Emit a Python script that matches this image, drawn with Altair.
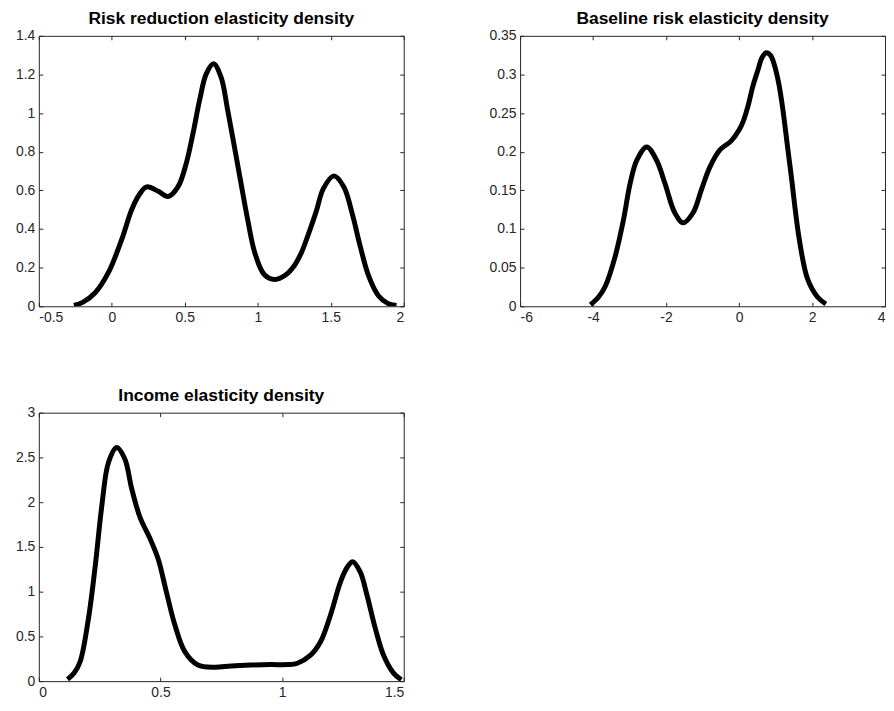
import altair as alt
import pandas as pd

# Panel 1: Risk reduction elasticity density
rr_x = [-0.26, -0.20, -0.114, -0.023, 0.068, 0.136, 0.19, 0.239, 0.318, 0.386, 0.454, 0.51,
        0.556, 0.601, 0.647, 0.697, 0.749, 0.794, 0.84, 0.885, 0.931, 0.98, 1.044, 1.117,
        1.19, 1.25, 1.30, 1.35, 1.40, 1.45, 1.521, 1.589, 1.646, 1.702, 1.76, 1.828, 1.89, 1.95]
rr_y = [0.005, 0.02, 0.07, 0.175, 0.346, 0.50, 0.58, 0.618, 0.595, 0.568, 0.619, 0.74,
        0.894, 1.065, 1.203, 1.255, 1.185, 1.014, 0.825, 0.637, 0.448, 0.276, 0.165, 0.139,
        0.162, 0.21, 0.28, 0.38, 0.49, 0.61, 0.675, 0.619, 0.482, 0.31, 0.156, 0.053, 0.015, 0.004]

# Panel 2: Baseline risk elasticity density
br_x = [-4.07, -3.85, -3.665, -3.392, -3.166, -2.984, -2.80, -2.53, -2.26, -2.03, -1.76, -1.53,
        -1.26, -1.03, -0.80, -0.53, -0.215, 0.0, 0.12, 0.245, 0.38, 0.52, 0.63, 0.745, 0.86,
        0.97, 1.09, 1.2, 1.32, 1.43, 1.65, 1.88, 2.15, 2.38]
br_y = [0.002, 0.012, 0.026, 0.065, 0.112, 0.159, 0.189, 0.206, 0.189, 0.159, 0.121, 0.108,
        0.121, 0.151, 0.18, 0.202, 0.214, 0.228, 0.24, 0.259, 0.285, 0.306, 0.322, 0.328, 0.325,
        0.312, 0.288, 0.255, 0.21, 0.169, 0.087, 0.035, 0.012, 0.003]

# Panel 3: Income elasticity density
ie_x = [0.118, 0.145, 0.170, 0.204, 0.232, 0.259, 0.286, 0.320, 0.354, 0.381, 0.416, 0.456,
        0.49, 0.524, 0.559, 0.60, 0.654, 0.722, 0.791, 0.873, 0.955, 1.023, 1.063, 1.117,
        1.158, 1.199, 1.24, 1.267, 1.29, 1.321, 1.349, 1.383, 1.417, 1.458, 1.49]
ie_y = [0.02, 0.09, 0.22, 0.70, 1.29, 1.96, 2.44, 2.61, 2.48, 2.16, 1.83, 1.60,
        1.37, 1.0, 0.63, 0.33, 0.18, 0.155, 0.17, 0.18, 0.185, 0.185, 0.20, 0.29,
        0.44, 0.74, 1.11, 1.27, 1.335, 1.22, 0.96, 0.59, 0.29, 0.09, 0.015]

titles = ["Risk reduction elasticity density", "Baseline risk elasticity density",
          "Income elasticity density"]
x_ticks = [[-0.5, 0, 0.5, 1, 1.5, 2], [-6, -4, -2, 0, 2, 4], [0, 0.5, 1, 1.5]]
y_ticks = [[0, 0.2, 0.4, 0.6, 0.8, 1, 1.2, 1.4],
           [0, 0.05, 0.1, 0.15, 0.2, 0.25, 0.3, 0.35],
           [0, 0.5, 1, 1.5, 2, 2.5, 3]]

FONT = "Liberation Sans"
W = 367
HS = [272, 272, 270]
TICK = 4


def panel(xs, ys, title, xt, yt, h):
    df = pd.DataFrame({"x": xs, "y": ys})
    xdom = [xt[0], xt[-1]]
    ydom = [yt[0], yt[-1]]
    common = dict(domain=False, grid=False, tickSize=TICK, offset=-TICK,
                  tickColor="#262626", labelColor="#262626", labelFont=FONT,
                  labelFontSize=14, title=None, labelExpr="'' + datum.value",
                  labelPadding=4)
    xs_ = alt.Scale(domain=xdom, nice=False, zero=False)
    ys_ = alt.Scale(domain=ydom, nice=False, zero=False)
    main = alt.Chart(df).mark_line(color="black", strokeWidth=5, interpolate="catmull-rom",
                                   strokeCap="butt", clip=True).encode(
        x=alt.X("x:Q", scale=xs_, axis=alt.Axis(values=xt, orient="bottom", **common)),
        y=alt.Y("y:Q", scale=ys_, axis=alt.Axis(values=yt, orient="left", **common)),
        order="x:Q",
    )
    common2 = dict(common)
    common2["labels"] = False
    ghost = alt.Chart(df).mark_line(opacity=0).encode(
        x=alt.X("x:Q", scale=xs_, axis=alt.Axis(values=xt, orient="top", **common2)),
        y=alt.Y("y:Q", scale=ys_, axis=alt.Axis(values=yt, orient="right", **common2)),
    )
    return alt.layer(main, ghost).resolve_axis(x="independent", y="independent").properties(
        width=W, height=h,
        title=alt.TitleParams(title, font=FONT, fontSize=17.5, fontWeight="bold",
                              color="black", offset=1),
    )


p1 = panel(rr_x, rr_y, titles[0], x_ticks[0], y_ticks[0], HS[0])
p2 = panel(br_x, br_y, titles[1], x_ticks[1], y_ticks[1], HS[1])
p3 = panel(ie_x, ie_y, titles[2], x_ticks[2], y_ticks[2], HS[2])

chart = alt.vconcat(alt.hconcat(p1, p2, spacing=84), p3, spacing=62).configure_view(
    stroke="#262626", strokeWidth=1
).properties(padding={"left": 7, "top": 0, "right": 0, "bottom": 0})

chart.save("out.html", embed_options={"renderer": "svg", "actions": False})
